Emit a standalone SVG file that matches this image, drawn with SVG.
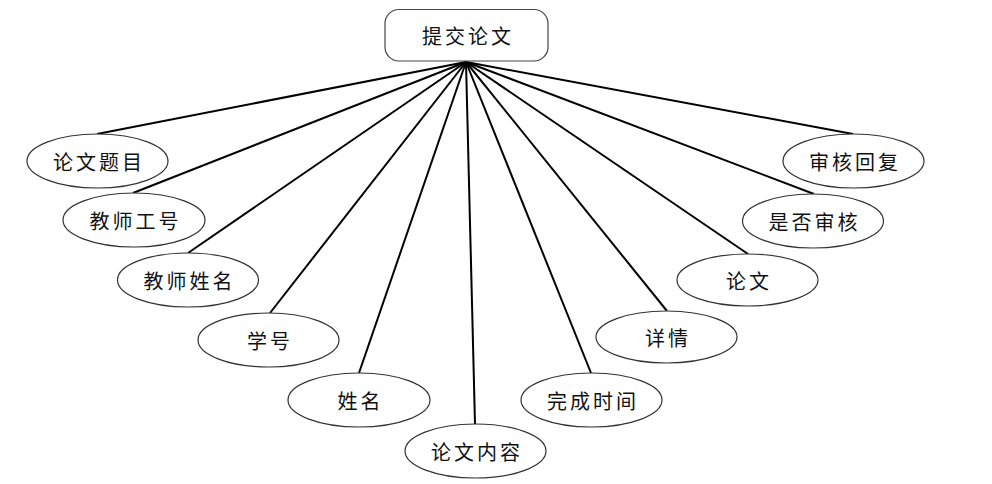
<svg xmlns="http://www.w3.org/2000/svg" width="992" height="484" viewBox="0 0 992 484">
<style>
.e{fill:#fff;stroke:#333;stroke-width:1.2}
.t{font-family:"Noto Sans CJK SC","Noto Sans",sans-serif;font-size:20px;letter-spacing:3px;fill:#111;text-anchor:middle;dominant-baseline:central}
.c line{stroke:#000;stroke-width:2}
</style>
<rect width="992" height="484" fill="#fff"/>
<g id="connectors" class="c">
<line x1="466" y1="62" x2="97" y2="134"/>
<line x1="466" y1="62" x2="133" y2="193"/>
<line x1="466" y1="62" x2="188" y2="253"/>
<line x1="466" y1="62" x2="270" y2="313"/>
<line x1="466" y1="62" x2="359" y2="373"/>
<line x1="466" y1="62" x2="475" y2="424"/>
<line x1="466" y1="62" x2="591" y2="373"/>
<line x1="466" y1="62" x2="667" y2="311"/>
<line x1="466" y1="62" x2="748" y2="254"/>
<line x1="466" y1="62" x2="814" y2="194"/>
<line x1="466" y1="62" x2="853" y2="134"/>
</g>
<g id="submit">
<rect x="385" y="9.5" width="163" height="51.5" rx="14" fill="#fff" stroke="#444" stroke-width="1.2"/>
<text class="t" x="468" y="35">提交论文</text>
</g>
<g id="n1"><ellipse class="e" cx="97.5" cy="161" rx="70.5" ry="27"/><text class="t" x="99" y="161">论文题目</text></g>
<g id="n2"><ellipse class="e" cx="134" cy="220" rx="71" ry="27"/><text class="t" x="135.5" y="220">教师工号</text></g>
<g id="n3"><ellipse class="e" cx="188" cy="280" rx="70.5" ry="27"/><text class="t" x="189.5" y="280">教师姓名</text></g>
<g id="n4"><ellipse class="e" cx="268.5" cy="340" rx="70.5" ry="27"/><text class="t" x="270" y="340">学号</text></g>
<g id="n5"><ellipse class="e" cx="359" cy="400" rx="71" ry="27"/><text class="t" x="360.5" y="400">姓名</text></g>
<g id="n6"><ellipse class="e" cx="475.5" cy="451" rx="70.5" ry="27"/><text class="t" x="477" y="451">论文内容</text></g>
<g id="n7"><ellipse class="e" cx="591.5" cy="400" rx="70.5" ry="27"/><text class="t" x="593" y="400">完成时间</text></g>
<g id="n8"><ellipse class="e" cx="666.5" cy="337" rx="70.5" ry="26"/><text class="t" x="668" y="337">详情</text></g>
<g id="n9"><ellipse class="e" cx="747.5" cy="280" rx="70.5" ry="26"/><text class="t" x="749" y="280">论文</text></g>
<g id="n10"><ellipse class="e" cx="813" cy="221" rx="70.5" ry="27"/><text class="t" x="814.5" y="221">是否审核</text></g>
<g id="n11"><ellipse class="e" cx="853.5" cy="161" rx="70.5" ry="27"/><text class="t" x="855" y="161">审核回复</text></g>
</svg>
